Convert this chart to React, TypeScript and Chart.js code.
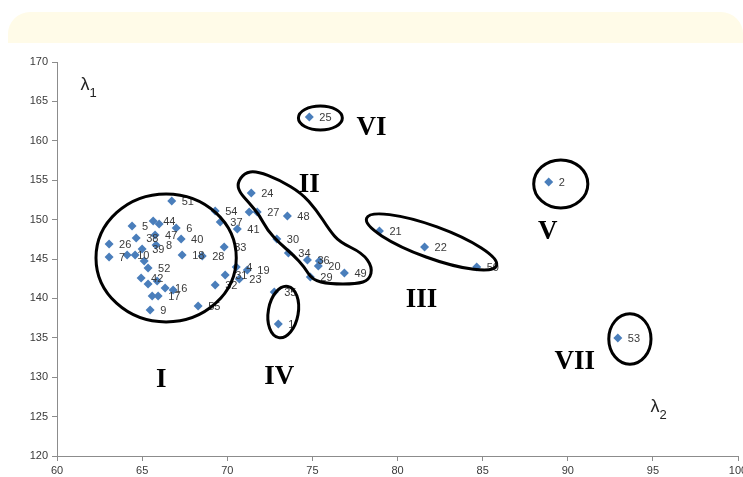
import React, { useEffect, useRef } from 'react';
import { Chart, registerables } from 'chart.js';

Chart.register(...registerables);

// ---- data ----
const pointIds: string[] = [
  '51', '44', '', '47', '5', '26', '38', '39', '8', '6',
  '40', '18', '28', '33', '54', '37', '7', '10', '', '',
  '52', '42', '', '', '16', '', '', '17', '9', '55',
  '32', '31', '23', '4', '19', '41', '24', '', '27', '48',
  '30', '34', '36', '', '20', '49', '29', '35', '1', '25',
  '2', '21', '22', '50', '53',
];
const lambda2: number[] = [
  66.74, 65.65, 66.0, 65.76, 64.41, 63.06, 64.65, 65.0, 65.82, 67.0,
  67.29, 67.35, 68.53, 69.82, 69.29, 69.59, 63.06, 64.12, 64.59, 65.12,
  65.35, 64.94, 65.35, 65.88, 66.35, 66.82, 65.59, 65.94, 65.47, 68.29,
  69.29, 69.88, 70.71, 70.53, 71.18, 70.59, 71.41, 71.29, 71.76, 73.53,
  72.91, 73.59, 74.71, 75.41, 75.35, 76.88, 74.88, 72.76, 73.0, 74.82,
  88.88, 78.94, 81.59, 84.65, 92.94,
];
const lambda1: number[] = [
  152.36, 149.82, 149.44, 148.05, 149.19, 146.9, 147.66, 146.27, 146.78, 148.93,
  147.54, 145.51, 145.38, 146.52, 151.09, 149.7, 145.25, 145.51, 145.51, 144.75,
  143.86, 142.59, 141.83, 142.2, 141.32, 141.07, 140.3, 140.3, 138.53, 139.04,
  141.7, 142.97, 142.46, 143.99, 143.6, 148.81, 153.38, 150.96, 150.96, 150.46,
  147.54, 145.76, 144.87, 144.75, 144.11, 143.22, 142.72, 140.81, 136.75, 163.02,
  154.77, 148.55, 146.52, 143.98, 134.97,
];
const xTicks = { min: 60, max: 100, step: 5 };
const yTicks = { min: 120, max: 170, step: 5 };

// ---- annotations (in data units) ----
const groupNames = ['I', 'II', 'III', 'IV', 'V', 'VI', 'VII'];
const groupNameX = [66.12, 74.82, 81.41, 73.06, 88.82, 78.47, 90.41];
const groupNameY = [129.64, 154.39, 139.8, 130.03, 148.43, 161.62, 131.93];

const ellipseCx = [66.41, 82.0, 73.29, 89.59, 75.47, 93.65];
const ellipseCy = [145.13, 147.16, 138.27, 154.52, 162.89, 134.85];
const ellipseA = [4.12, 4.06, 0.88, 1.59, 1.29, 1.24];
const ellipseB = [8.12, 2.03, 3.3, 3.05, 1.52, 3.2];
const ellipseRot = [0, 20, 10, 0, 0, 0];

const blobX = [70.59, 71.0, 71.71, 73.06, 74.35, 75.24, 76.0, 76.59, 77.94, 78.53, 78.35,
  77.59, 76.0, 75.0, 74.53, 73.88, 73.06, 72.35, 71.88, 71.29, 70.71];
const blobY = [154.64, 155.91, 156.17, 155.03, 153.38, 151.22, 148.68, 147.16, 145.76, 143.98, 142.34,
  141.83, 141.83, 142.34, 143.98, 145.51, 147.03, 148.68, 150.58, 152.11, 153.5];

const axisLabelText = ['λ', 'λ'];
const axisLabelSub = ['1', '2'];
const axisLabelX = [61.65, 95.12];
const axisLabelY = [167.08, 126.22];

const AXIS_COLOR = '#8c8c8c';
const TEXT_COLOR = '#3a3a3a';

const pointLabelPlugin = {
  id: 'pointLabels',
  afterDatasetsDraw(chart: any) {
    const ctx = chart.ctx;
    const meta = chart.getDatasetMeta(0);
    ctx.save();
    ctx.font = '11px "Liberation Sans", Arial, sans-serif';
    ctx.fillStyle = TEXT_COLOR;
    ctx.textAlign = 'left';
    ctx.textBaseline = 'middle';
    meta.data.forEach((el: any, i: number) => {
      const t = pointIds[i];
      if (t) ctx.fillText(t, el.x + 10, el.y + 1);
    });
    ctx.restore();
  },
};

const annotationPlugin = {
  id: 'groups',
  afterDraw(chart: any) {
    const { ctx } = chart;
    const xs = chart.scales.x;
    const ys = chart.scales.y;
    const px = (v: number) => xs.getPixelForValue(v);
    const py = (v: number) => ys.getPixelForValue(v);
    ctx.save();
    ctx.strokeStyle = '#000';
    ctx.lineWidth = 3;
    for (let i = 0; i < ellipseCx.length; i++) {
      const cx = px(ellipseCx[i]);
      const cy = py(ellipseCy[i]);
      const rx = Math.abs(px(ellipseCx[i] + ellipseA[i]) - cx);
      const ry = Math.abs(py(ellipseCy[i] + ellipseB[i]) - cy);
      ctx.beginPath();
      ctx.ellipse(cx, cy, rx, ry, (ellipseRot[i] * Math.PI) / 180, 0, Math.PI * 2);
      ctx.stroke();
    }
    // irregular outline of group II (smooth closed curve)
    const pts = blobX.map((v, i) => [px(v), py(blobY[i])]);
    const n = pts.length;
    ctx.beginPath();
    const mid = (a: number[], b: number[]) => [(a[0] + b[0]) / 2, (a[1] + b[1]) / 2];
    const start = mid(pts[n - 1], pts[0]);
    ctx.moveTo(start[0], start[1]);
    for (let i = 0; i < n; i++) {
      const p = pts[i];
      const m = mid(p, pts[(i + 1) % n]);
      ctx.quadraticCurveTo(p[0], p[1], m[0], m[1]);
    }
    ctx.closePath();
    ctx.stroke();

    // group names
    ctx.fillStyle = '#000';
    ctx.font = 'bold 27px "Liberation Serif", "Times New Roman", serif';
    ctx.textAlign = 'center';
    ctx.textBaseline = 'middle';
    groupNames.forEach((g, i) => ctx.fillText(g, px(groupNameX[i]), py(groupNameY[i])));

    // axis symbols
    ctx.fillStyle = '#222';
    axisLabelText.forEach((t, i) => {
      const x = px(axisLabelX[i]);
      const y = py(axisLabelY[i]);
      ctx.font = '18px "Liberation Sans", Arial, sans-serif';
      ctx.textAlign = 'center';
      ctx.textBaseline = 'middle';
      ctx.fillText(t, x, y);
      const w = ctx.measureText(t).width;
      ctx.font = '13px "Liberation Sans", Arial, sans-serif';
      ctx.textAlign = 'left';
      ctx.fillText(axisLabelSub[i], x + w / 2, y + 8);
    });
    ctx.restore();
  },
};

export default function App() {
  const ref = useRef<HTMLCanvasElement | null>(null);
  useEffect(() => {
    if (!ref.current) return;
    const chart = new Chart(ref.current, {
      type: 'scatter',
      data: {
        datasets: [
          {
            data: lambda2.map((v, i) => ({ x: v, y: lambda1[i] })),
            pointStyle: 'rectRot',
            pointRadius: 4.5,
            backgroundColor: '#4a7ebb',
            borderColor: '#4a7ebb',
            borderWidth: 0,
          },
        ],
      },
      options: {
        animation: false,
        responsive: false,
        layout: { padding: { top: 62, left: 0, right: 5, bottom: 0 } },
        plugins: { legend: { display: false }, tooltip: { enabled: false } },
        scales: {
          x: {
            type: 'linear',
            min: xTicks.min,
            max: xTicks.max,
            ticks: {
              stepSize: xTicks.step,
              color: TEXT_COLOR,
              font: { family: '"Liberation Sans", Arial, sans-serif', size: 11 },
              padding: 3,
            },
            grid: { drawOnChartArea: false, drawTicks: true, tickLength: 5, color: AXIS_COLOR },
            border: { color: AXIS_COLOR },
            afterFit: (s: any) => {
              s.height = 21;
              s.paddingLeft = 0;
              s.paddingRight = 0;
            },
          },
          y: {
            type: 'linear',
            min: yTicks.min,
            max: yTicks.max,
            ticks: {
              stepSize: yTicks.step,
              color: TEXT_COLOR,
              font: { family: '"Liberation Sans", Arial, sans-serif', size: 11 },
              padding: 4,
            },
            grid: { drawOnChartArea: false, drawTicks: true, tickLength: 5, color: AXIS_COLOR },
            border: { color: AXIS_COLOR },
            afterFit: (s: any) => {
              s.width = 57;
              s.paddingTop = 0;
              s.paddingBottom = 0;
            },
          },
        },
      },
      plugins: [pointLabelPlugin, annotationPlugin],
    } as any);
    return () => chart.destroy();
  }, []);

  return (
    <div style={{ position: 'fixed', left: 0, top: 0, width: 743, height: 477, background: '#fff' }}>
      <div
        style={{
          position: 'absolute',
          left: 8,
          top: 12,
          width: 735,
          height: 31,
          background: '#fffbe8',
          borderTopLeftRadius: 22,
          borderTopRightRadius: 22,
        }}
      />
      <canvas ref={ref} width={743} height={477} style={{ position: 'absolute', left: 0, top: 0 }} />
    </div>
  );
}
